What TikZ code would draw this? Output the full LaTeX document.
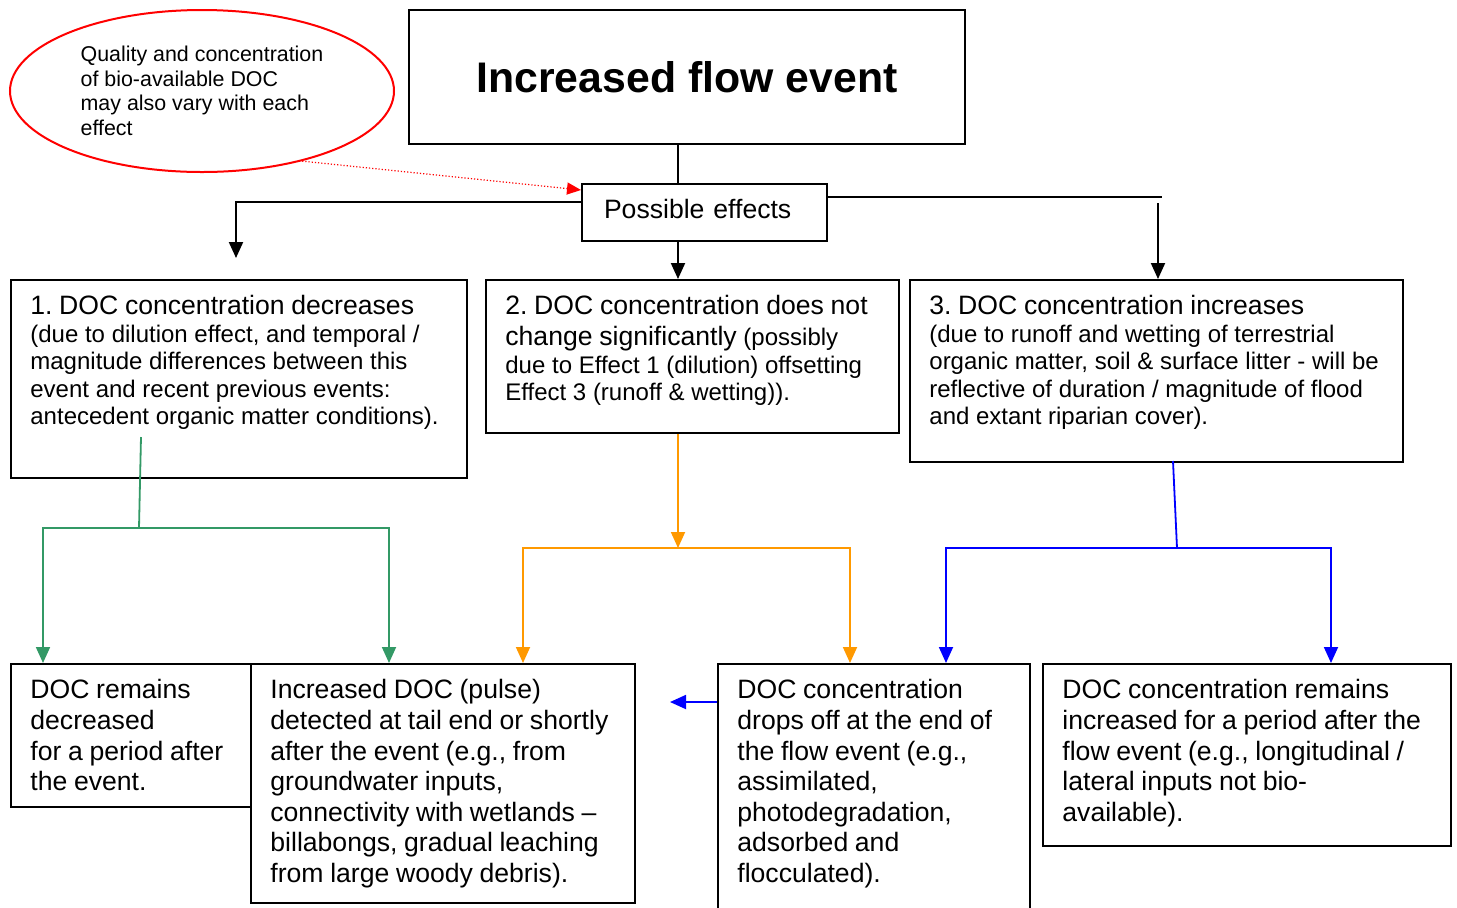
\documentclass[tikz,border=0pt]{standalone}
\usepackage{fontspec}
\setmainfont{Liberation Sans}
\usetikzlibrary{arrows.meta,shapes.geometric}

\definecolor{leafgreen}{RGB}{51,153,102}
\definecolor{amber}{RGB}{255,153,0}
\newcommand{\headsize}{\fontsize{13.3}{15.5}\selectfont}
\newcommand{\bodysize}{\fontsize{12}{13.75}\selectfont}
\newcommand{\outsize}{\fontsize{13.3}{15.33}\selectfont}
\frenchspacing

\begin{document}
\begin{tikzpicture}[x=0.5pt,y=-0.5pt,
		box/.style={draw,line width=1pt,anchor=north west,inner sep=0pt},
		boxtext/.style={anchor=north west,xshift=10pt,yshift=-8pt,inner sep=0pt,text width=300pt,align=left},
		link/.style={line width=1pt,-{Triangle[length=8pt,width=7pt]}},
		branch/.style={line width=0.9pt}]
		\useasboundingbox (0,0) rectangle (1457,907);

		% top of the chart
		\node[draw=red,line width=1pt,ellipse,minimum width=192pt,minimum height=81pt,inner sep=0pt,align=left,font=\fontsize{10.7}{12.25}\selectfont] (note) at (202,91) {Quality and concentration\\of bio-available DOC\\may also vary with each\\effect};
		\node[draw,line width=1pt,minimum width=278pt,minimum height=67pt,font=\fontsize{21.4}{25}\selectfont\bfseries] (title) at (687,77) {Increased flow event};
		\node[box,inner xsep=11pt,text width=100.5pt,minimum height=28.5pt,text height=9.6pt,text depth=4pt,align=left,font=\headsize] (pe) at (581,183) {Possible effects};

		% the three effects
		\node[box,minimum width=228pt,minimum height=99pt,label={[boxtext]north west:{\headsize 1. DOC concentration decreases\endgraf\bodysize (due to dilution effect, and temporal /\\magnitude differences between this\\event and recent previous events:\\antecedent organic matter conditions).\endgraf}}] (box1) at (10,279) {};
		\node[box,minimum width=206.5pt,minimum height=76.5pt,label={[boxtext]north west:{\headsize 2. DOC concentration does not\\change significantly {\bodysize (possibly}\endgraf\bodysize due to Effect 1 (dilution) offsetting\\Effect 3 (runoff \& wetting)).\endgraf}}] (box2) at (485,279) {};
		\node[box,minimum width=246.5pt,minimum height=91pt,label={[boxtext]north west:{\headsize 3. DOC concentration increases\endgraf\bodysize (due to runoff and wetting of terrestrial\\organic matter, soil \& surface litter - will be\\reflective of duration / magnitude of flood\\and extant riparian cover).\endgraf}}] (box3) at (909,279) {};

		% outcomes
		\node[box,minimum width=120pt,minimum height=71.5pt,label={[boxtext]north west:{\outsize DOC remains\\decreased\\for a period after\\the event.\endgraf}}] (out1) at (10,663) {};
		\node[box,minimum width=192pt,minimum height=119.5pt,label={[boxtext]north west:{\outsize Increased DOC (pulse)\\detected at tail end or shortly\\after the event (e.g., from\\groundwater inputs,\\connectivity with wetlands --\\billabongs, gradual leaching\\from large woody debris).\endgraf}}] (out2) at (250,663) {};
		\node[box,minimum width=156pt,minimum height=130pt,label={[boxtext]north west:{\outsize DOC concentration\\drops off at the end of\\the flow event (e.g.,\\assimilated,\\photodegradation,\\adsorbed and\\flocculated).\endgraf}}] (out3) at (717,663) {};
		\node[box,minimum width=204pt,minimum height=91pt,label={[boxtext]north west:{\outsize DOC concentration remains\\increased for a period after the\\flow event (e.g., longitudinal /\\lateral inputs not bio-\\available).\endgraf}}] (out4) at (1042,663) {};

		% black connectors
		\coordinate (spine) at (678,0);
		\coordinate (lbend) at (236,202);
		\coordinate (ltip) at (236,258);
		\coordinate (rend) at (1162,197);
		\coordinate (rtop) at (1158,203);
		\draw[line width=1pt] (title.south -| spine) -- (pe.north -| spine);
		\draw[link] (pe.west |- lbend) -- (lbend) -- (ltip);
		\draw[link] (pe.south -| spine) -- (box2.north -| spine);
		\draw[line width=1pt] (pe.east |- rend) -- (rend);
		\draw[link] (rtop) -- (box3.north -| rtop);
		\draw[red,densely dotted,line width=0.6pt,-{Triangle[length=7pt,width=6pt]}] (note.-35) -- ([yshift=-3.5pt]pe.north west);

		% green branch
		\coordinate (gtop) at (141,437);
		\coordinate (gmid) at (139,528);
		\coordinate (gl) at (43,528);
		\coordinate (gr) at (389,528);
		\draw[leafgreen,branch] (gtop) -- (gmid);
		\draw[leafgreen,link,branch] (gmid) -- (gl) -- (gl |- out1.north);
		\draw[leafgreen,link,branch] (gmid) -- (gr) -- (gr |- out2.north);

		% orange branch
		\coordinate (omid) at (678,548);
		\coordinate (ol) at (523,548);
		\coordinate (or) at (850,548);
		\draw[amber,link,branch] (box2.south -| spine) -- (omid);
		\draw[amber,link,branch] (omid) -- (ol) -- (ol |- out2.north);
		\draw[amber,link,branch] (omid) -- (or) -- (or |- out3.north);

		% blue branch
		\coordinate (btop) at (1173,461);
		\coordinate (bmid) at (1177,548);
		\coordinate (bl) at (946,548);
		\coordinate (br) at (1331,548);
		\coordinate (btip) at (670,702);
		\draw[blue,branch] (btop) -- (bmid);
		\draw[blue,link,branch] (bmid) -- (bl) -- (bl |- out3.north);
		\draw[blue,link,branch] (bmid) -- (br) -- (br |- out4.north);
		\draw[blue,link,branch] (out3.west |- btip) -- (btip);
	\end{tikzpicture}
\end{document}
